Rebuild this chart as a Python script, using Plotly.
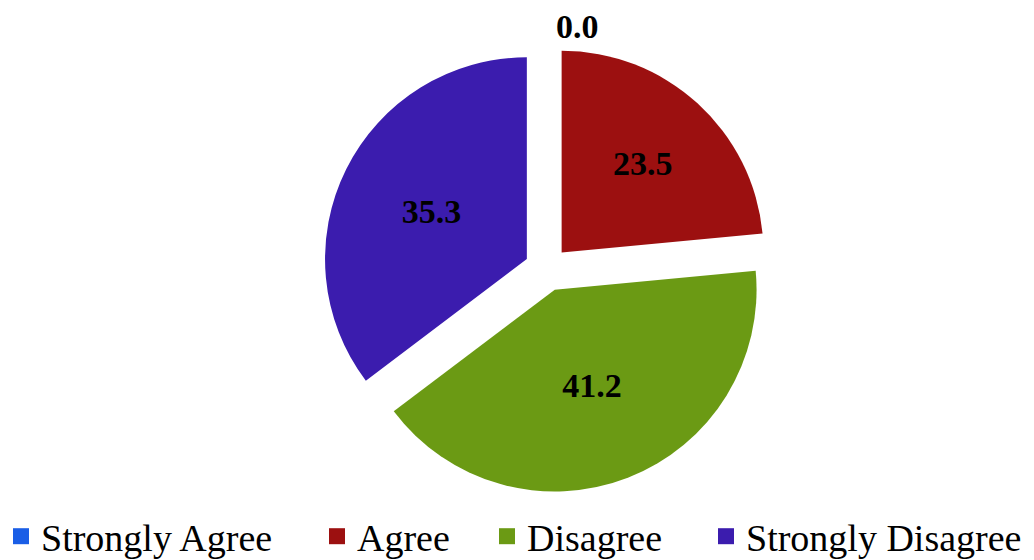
import plotly.graph_objects as go

categories = ["Strongly Agree", "Agree", "Disagree", "Strongly Disagree"]
values = [0.0, 23.5, 41.2, 35.3]
colors = ["#1a5ee6", "#9c1010", "#6b9a14", "#3b1cae"]

W, H = 1034, 560
legend_text_left = [42, 358, 528, 747]  # px positions of legend entries

fig = go.Figure()
fig.add_trace(go.Pie(
    labels=categories,
    values=values,
    marker=dict(colors=colors, line=dict(width=0)),
    sort=False,
    direction="clockwise",
    rotation=0,
    pull=[0.11, 0.11, 0.11, 0.11],
    texttemplate="%{value:.1f}",
    textinfo="value",
    textposition=["outside", "inside", "inside", "inside"],
    insidetextorientation="horizontal",
    textfont=dict(family="Liberation Serif", size=34, color="black", weight="bold"),
    hoverinfo="label+value",
    showlegend=False,
    domain=dict(x=[0.101, 0.941], y=[0.134, 0.934]),
))

legend_names = ["legend", "legend2", "legend3", "legend4"]
layout_legends = {}
for i, (cat, col) in enumerate(zip(categories, colors)):
    fig.add_trace(go.Scatter(
        x=[None], y=[None], mode="markers", name=cat,
        marker=dict(symbol="square", size=20, color=col),
        showlegend=True, legend=legend_names[i], hoverinfo="skip",
    ))
    layout_legends[legend_names[i]] = dict(
        x=(legend_text_left[i] - 49) / W,
        xanchor="left",
        y=0, yanchor="bottom",
        orientation="h", bgcolor="rgba(0,0,0,0)", borderwidth=0,
        itemsizing="trace",
        font=dict(family="Liberation Serif", size=38, color="black"),
    )

fig.update_layout(
    width=W, height=H,
    margin=dict(l=0, r=0, t=0, b=0, autoexpand=False),
    paper_bgcolor="white",
    plot_bgcolor="white",
    xaxis=dict(visible=False),
    yaxis=dict(visible=False),
    **layout_legends,
)

fig.write_html("out.html")
